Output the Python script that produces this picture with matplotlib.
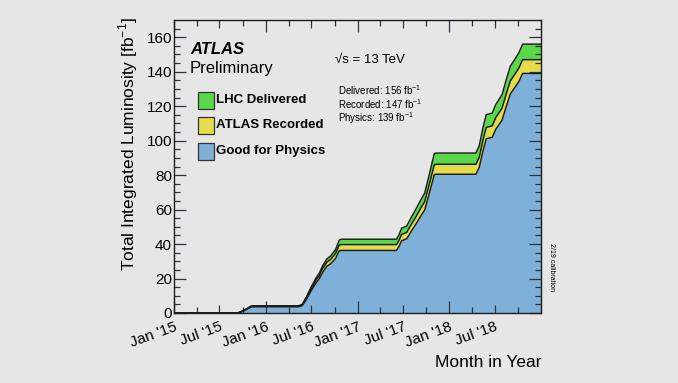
import numpy as np
import matplotlib.pyplot as plt
from matplotlib.patches import Rectangle

plt.rcParams['font.family'] = ['Liberation Sans', 'DejaVu Sans']
plt.rcParams['mathtext.fontset'] = 'custom'
plt.rcParams['mathtext.rm'] = 'Liberation Sans'

# cumulative luminosity (fb^-1)
dates = ['2015-01-01', '2015-09-10', '2015-09-25', '2015-10-15', '2015-11-03', '2015-11-10',
         '2016-05-10', '2016-05-25', '2016-06-10', '2016-06-28', '2016-07-20', '2016-08-01',
         '2016-08-15', '2016-09-01', '2016-09-15', '2016-10-05', '2016-10-20', '2016-10-28',
         '2017-06-05', '2017-06-15', '2017-06-25', '2017-07-15', '2017-08-01', '2017-08-20',
         '2017-09-10', '2017-09-25', '2017-10-13', '2017-11-02', '2017-11-10',
         '2018-04-17', '2018-04-30', '2018-05-15', '2018-05-28', '2018-06-21', '2018-07-05',
         '2018-07-30', '2018-08-15', '2018-09-01', '2018-09-20', '2018-10-05', '2018-10-20',
         '2019-01-01']
delivered = [0.0, 0.0, 0.8, 2.3, 4.0, 4.2,
             4.2, 5.0, 9.0, 14.5, 20.5, 23.0,
             27.5, 31.5, 33.0, 36.8, 42.3, 42.8,
             42.8, 45.5, 49.2, 50.4, 55.0, 60.0,
             65.7, 69.6, 80.2, 92.5, 92.8,
             92.8, 97.0, 107.5, 115.1, 116.0, 121.0,
             126.7, 135.0, 143.2, 147.5, 151.0, 156.0,
             156.0]
recorded = [0.0, 0.0, 0.7, 2.1, 3.7, 3.9,
            3.9, 4.6, 8.4, 13.6, 19.3, 21.6,
            25.9, 29.6, 31.0, 34.5, 39.5, 39.7,
            39.7, 42.2, 45.6, 46.7, 51.0, 55.6,
            61.0, 64.6, 74.5, 86.0, 86.3,
            86.3, 90.3, 100.4, 107.7, 108.6, 113.4,
            118.9, 126.8, 134.7, 138.8, 142.2, 147.0,
            147.0]
physics = [0.0, 0.0, 0.6, 1.9, 3.4, 3.6,
           3.6, 4.2, 7.6, 12.4, 17.6, 19.8,
           23.6, 27.2, 28.5, 31.6, 36.2, 36.3,
           36.3, 38.7, 41.9, 43.0, 47.0, 51.4,
           56.4, 59.8, 69.1, 80.3, 80.5,
           80.5, 84.4, 94.1, 101.1, 102.0, 106.6,
           111.9, 119.5, 127.1, 131.1, 134.3, 139.0,
           139.0]

tick_dates = ['2015-01-01', '2015-07-01', '2016-01-01', '2016-07-01',
              '2017-01-01', '2017-07-01', '2018-01-01', '2018-07-01']
tick_labels = ["Jan '15", "Jul '15", "Jan '16", "Jul '16",
               "Jan '17", "Jul '17", "Jan '18", "Jul '18"]
quarter_dates = ['2015-04-01', '2015-10-01', '2016-04-01', '2016-10-01',
                 '2017-04-01', '2017-10-01', '2018-04-01', '2018-10-01']

legend_names = ['LHC Delivered', 'ATLAS Recorded', 'Good for Physics']

bg = '#e6e6e6'
green = '#5bd74b'
yellow = '#e4dc4c'
blue = '#7eb0d9'
edge = '#1c1c1c'

t = np.array(dates, dtype='datetime64[D]')

fig = plt.figure(figsize=(6.78, 3.83), dpi=100)
fig.patch.set_facecolor(bg)
W, H = 678.0, 383.0
ax = fig.add_axes([174 / W, 1 - 313 / H, (541 - 174) / W, (313 - 20) / H])
ax.set_facecolor(bg)

for vals, col in [(delivered, green), (recorded, yellow), (physics, blue)]:
    ax.fill_between(t, 0, vals, color=col, lw=0)
for vals in [delivered, recorded, physics]:
    ax.plot(t, vals, color=edge, lw=1.05)

ax.set_xlim(np.datetime64('2015-01-01'), np.datetime64('2019-01-01'))
ax.set_ylim(0, 170)

ax.set_xticks(np.array(tick_dates, dtype='datetime64[D]'))
ax.set_xticklabels(tick_labels, rotation=20, ha='right', va='top',
                   rotation_mode='anchor', fontsize=11)
ax.set_xticks(np.array(quarter_dates, dtype='datetime64[D]'), minor=True)
ax.set_yticks(np.arange(0, 161, 20))
ax.set_yticks(np.arange(0, 170, 5), minor=True)
ax.tick_params(axis='y', labelsize=11, pad=1.5)

ax.tick_params(which='both', direction='in', top=True, right=True,
               color='#2a3440', width=0.9)
ax.tick_params(which='major', length=8.5)
ax.tick_params(which='minor', length=4)
ax.tick_params(axis='x', which='major', pad=5)
# Jul ticks are a bit shorter than Jan ones
for i, tk in enumerate(ax.xaxis.get_major_ticks()):
    if i % 2 == 1:
        tk.tick1line.set_markersize(6)
        tk.tick2line.set_markersize(6)

for sp in ax.spines.values():
    sp.set_color(edge)
    sp.set_linewidth(1.0)

ax.set_ylabel('Total Integrated Luminosity [fb$^{-1}$]', fontsize=12.5)
ax.yaxis.set_label_coords(-0.093, 0.575)
ax.set_xlabel('Month in Year', fontsize=12.5, ha='right')
ax.xaxis.set_label_coords(1.0, -0.145)

# ATLAS label
fig.text(190 / W, 1 - 50 / H, 'ATLAS', fontsize=12, fontweight='bold',
         fontstyle='italic', va='center')
fig.text(190 / W, 1 - 69 / H, 'Preliminary', fontsize=12, va='center')

# legend boxes
box_y = [100, 125.5, 151]
for name, col, yc in zip(legend_names, [green, yellow, blue], box_y):
    fig.patches.append(Rectangle((198 / W, 1 - (yc + 8.5) / H), 15.5 / W, 17 / H,
                                 transform=fig.transFigure, facecolor=col,
                                 edgecolor='#333333', lw=0.9))
    fig.text(216 / W, 1 - yc / H, name, fontsize=9.5, fontweight='bold', va='center')

fig.text(335 / W, 1 - 60 / H, '\u221as = 13 TeV', fontsize=9.5, va='center')
info = ['Delivered: %.0f fb$^{-1}$' % delivered[-1],
        'Recorded: %.0f fb$^{-1}$' % recorded[-1],
        'Physics: %.0f fb$^{-1}$' % physics[-1]]
for k, s in enumerate(info):
    fig.text(338 / W, 1 - (90 + 14 * k) / H, s, fontsize=7, va='center')

fig.text(552 / W, 1 - 267 / H, '2/19 calibration', fontsize=5, rotation=270,
         ha='center', va='center')

fig.savefig('out.png', dpi=100, facecolor=bg)
